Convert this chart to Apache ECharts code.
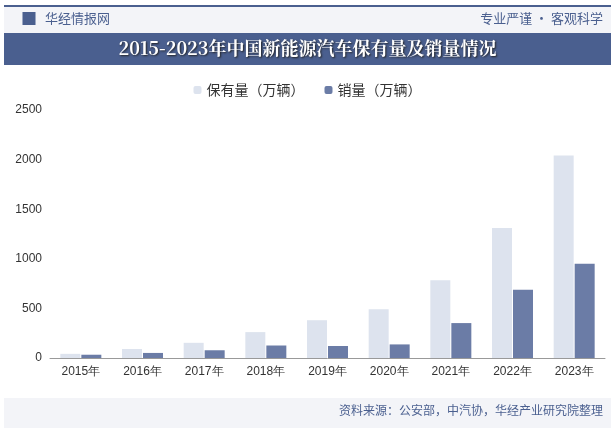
<!DOCTYPE html>
<html><head><meta charset="utf-8">
<script src="https://cdn.jsdelivr.net/npm/echarts@6/dist/echarts.min.js"></script>
<style>body{margin:0}#c{width:615px;height:428px}</style></head>
<body><div id="c"></div>
<script>
const categories=['2015年','2016年','2017年','2018年','2019年','2020年','2021年','2022年','2023年'];
const ownership=[42,91,153,261,381,492,784,1310,2041];
const sales=[33,51,78,126,121,137,352,689,950];
const chart=echarts.init(document.getElementById('c'));
chart.setOption({
  animation:false,
  graphic:[
    {type:'rect',shape:{x:4,y:7,width:607,height:26},style:{fill:'#f3f4f8'}},
    {type:'rect',shape:{x:4,y:5,width:607,height:2},style:{fill:'#4a5f8f'}},
    {type:'rect',shape:{x:4,y:33,width:607,height:32},style:{fill:'#4a5f8f'}},
    {type:'rect',shape:{x:4,y:398,width:607,height:30},style:{fill:'#f3f4f8'}},
    {type:'text',left:16,top:12,style:{text:'▐▌ 华经情报网',fill:'#4a5f8f',font:'13px "Noto Sans CJK SC"'}},
    {type:'text',right:12,top:12,style:{text:'专业严谨 • 客观科学',fill:'#4a5f8f',font:'13px "Noto Sans CJK SC"'}},
    {type:'text',left:'center',top:39,style:{text:'2015-2023年中国新能源汽车保有量及销量情况',fill:'#fff',font:'bold 18px "Noto Serif CJK SC","Noto Sans CJK SC"',textShadowColor:'#222',textShadowBlur:2,textShadowOffsetX:1,textShadowOffsetY:1}},
    {type:'text',right:12,top:404,style:{text:'资料来源：公安部，中汽协，华经产业研究院整理',fill:'#4a5f8f',font:'12px "Noto Sans CJK SC"'}}
  ],
  legend:{top:78,left:'center',itemWidth:8,itemHeight:8,itemGap:20,textStyle:{fontSize:14,color:'#333',fontFamily:'Noto Sans CJK SC'},data:['保有量（万辆）','销量（万辆）']},
  grid:{left:50,right:10,top:110,bottom:70},
  xAxis:{type:'category',data:categories,axisTick:{show:false},axisLine:{lineStyle:{color:'#999'}},axisLabel:{color:'#333',fontSize:12}},
  yAxis:{type:'value',min:0,max:2500,interval:500,splitLine:{show:false},axisLabel:{color:'#333',fontSize:12,formatter:v=>String(v)}},
  series:[
    {name:'保有量（万辆）',type:'bar',data:ownership,barWidth:20,barGap:'5%',itemStyle:{color:'#dde3ee'}},
    {name:'销量（万辆）',type:'bar',data:sales,barWidth:20,itemStyle:{color:'#6b7ca6'}}
  ]
});
</script></body></html>
